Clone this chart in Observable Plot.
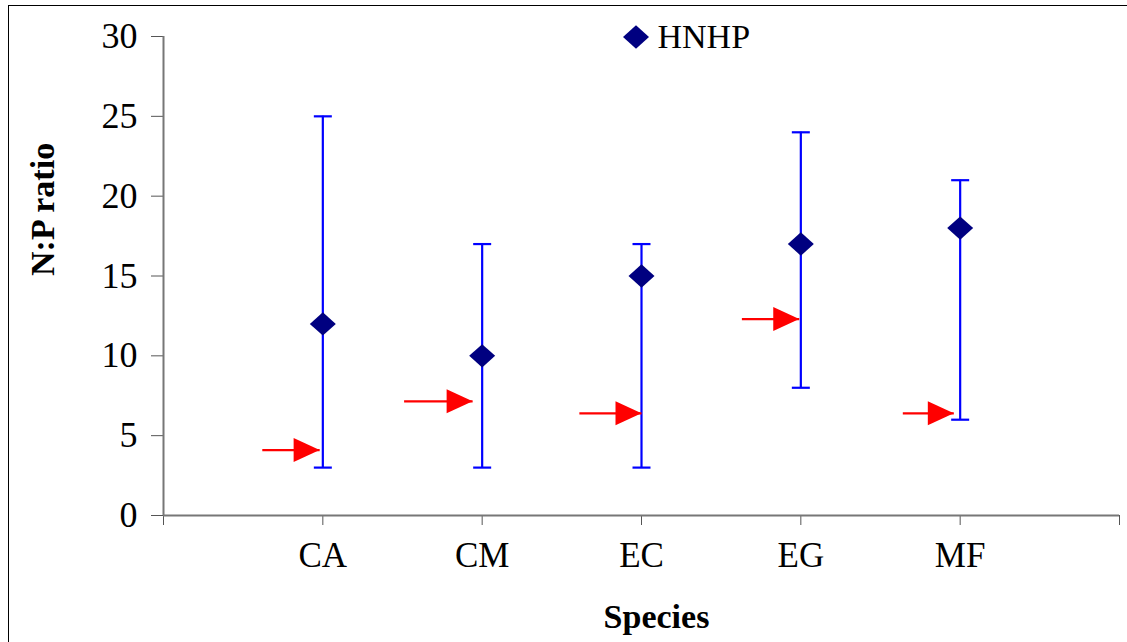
<!DOCTYPE html>
<html><head><meta charset="utf-8">
<script src="https://cdn.jsdelivr.net/npm/d3@7"></script>
<script src="https://cdn.jsdelivr.net/npm/@observablehq/plot@0.6"></script>
<style>
body{margin:0;background:#fff;}
#wrap{position:relative;width:1127px;height:642px;overflow:hidden;font-family:"Liberation Serif","Times New Roman",serif;background:#fff;}
#frame{position:absolute;left:8px;top:5px;width:1140px;height:660px;border-left:1.5px solid #000;border-top:1.5px solid #000;box-sizing:border-box;}
#chart{position:absolute;left:0;top:0;}
</style>
</head><body><div id="wrap"><div id="frame"></div><div id="chart"></div></div>
<script>
// ---- data ----
const species = ["CA", "CM", "EC", "EG", "MF"];
const hnhpMean = [12, 10, 15, 17, 18];
const hnhpLow = [3, 3, 3, 8, 6];
const hnhpHigh = [25, 17, 17, 24, 21];
const arrowValue = [4.1, 7.15, 6.4, 12.3, 6.4];
const arrowFrom = [0.62, 1.51, 2.61, 3.63, 4.64];
const arrowTo = [0.98, 1.94, 3.0, 3.99, 4.96];
const yTicks = [0, 5, 10, 15, 20, 25, 30];
const xTicks = [0, 1, 2, 3, 4, 5, 6];
const seriesName = "HNHP";
const yTitle = "N:P ratio";
const xTitle = "Species";

// ---- build table ----
const rows = species.map((s, i) => ({
  pos: i + 1, name: s, mean: hnhpMean[i], low: hnhpLow[i], high: hnhpHigh[i],
  aVal: arrowValue[i], aFrom: arrowFrom[i], aTo: arrowTo[i]
}));

// ---- symbols ----
const diamond = {draw(c) { c.moveTo(0, -11.7); c.lineTo(13, 0); c.lineTo(0, 11.7); c.lineTo(-13, 0); c.closePath(); }};
const cap = {draw(c) { c.moveTo(-9, 0); c.lineTo(9, 0); }};
const head = {draw(c) { c.moveTo(0, 0); c.lineTo(-26, -12); c.lineTo(-26, 12); c.closePath(); }};

const font = "Liberation Serif, Times New Roman, serif";

const chart = Plot.plot({
  width: 1127, height: 642,
  marginLeft: 163, marginRight: 8, marginTop: 36, marginBottom: 127,
  style: {fontFamily: font, fontSize: "35px", background: "transparent", overflow: "visible", color: "#000"},
  x: {domain: [0, 6], label: null},
  y: {domain: [0, 30], label: null},
  marks: [
    Plot.axisY({ticks: yTicks, tickSize: 12, tickPadding: 14, fontSize: 36, stroke: "#555", fill: "#000", label: null}),
    Plot.axisX({ticks: xTicks, tickFormat: d => species[d - 1] ?? "", tickSize: 10, tickPadding: 17, fontSize: 35, stroke: "#555", fill: "#000", label: null, style: "letter-spacing:1.5px"}),
    Plot.ruleX([0], {y1: 0, y2: 30, stroke: "#777", strokeWidth: 2}),
    Plot.ruleY([0], {x1: 0, x2: 6, stroke: "#777", strokeWidth: 2}),
    // error bars
    Plot.ruleX(rows, {x: "pos", y1: "low", y2: "high", stroke: "#0000ff", strokeWidth: 2.2}),
    Plot.dot(rows, {x: "pos", y: "low", symbol: cap, stroke: "#0000ff", fill: "none", strokeWidth: 2.2}),
    Plot.dot(rows, {x: "pos", y: "high", symbol: cap, stroke: "#0000ff", fill: "none", strokeWidth: 2.2}),
    // red arrows
    Plot.link(rows, {x1: "aFrom", x2: "aTo", y1: "aVal", y2: "aVal", stroke: "#ff0000", strokeWidth: 2.2}),
    Plot.dot(rows, {x: "aTo", y: "aVal", symbol: head, fill: "#ff0000", stroke: "none"}),
    // means
    Plot.dot(rows, {x: "pos", y: "mean", symbol: diamond, fill: "#000080", stroke: "none"}),
    // legend
    Plot.dot([seriesName], {frameAnchor: "top-left", dx: 635.5 - 163, dy: 0.5, symbol: diamond, fill: "#000080", stroke: "none"}),
    Plot.text([seriesName], {frameAnchor: "top-left", dx: 657 - 163, dy: 0.5, textAnchor: "start", lineAnchor: "middle", fontSize: 34, fill: "#000", style: "letter-spacing:0.5px"}),
    // axis titles
    Plot.text([yTitle], {frameAnchor: "left", dx: 43 - 163, rotate: -90, fontSize: 34, fontWeight: "bold", fill: "#000"}),
    Plot.text([xTitle], {frameAnchor: "bottom", dx: 15, dy: 112, fontSize: 34, fontWeight: "bold", fill: "#000", style: "letter-spacing:1.5px"})
  ]
});
document.getElementById("chart").appendChild(chart);
</script>
</body></html>
